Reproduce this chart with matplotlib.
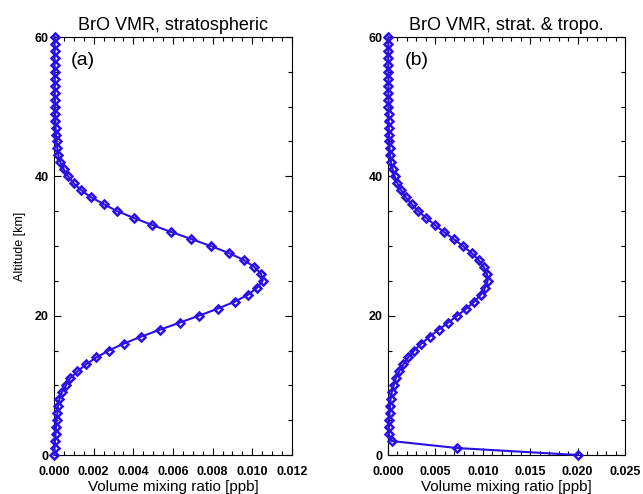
import matplotlib
matplotlib.use("Agg")
import matplotlib.pyplot as plt
from matplotlib.ticker import MultipleLocator, AutoMinorLocator, FormatStrFormatter

plt.rcParams['font.family'] = ['Liberation Sans', 'DejaVu Sans']

altitude = list(range(0, 61))
vmr_strat = [0.00002, 0.00003, 0.00005, 0.00008, 0.00010, 0.00013, 0.00017, 0.00020,
             0.00027, 0.00040, 0.00060, 0.00081, 0.00118, 0.00161, 0.00213, 0.00276,
             0.00353, 0.00440, 0.00536, 0.00634, 0.00731, 0.00825, 0.00911, 0.00978,
             0.01024, 0.01052, 0.01044, 0.01010, 0.00956, 0.00881, 0.00790, 0.00692,
             0.00592, 0.00496, 0.00405, 0.00319, 0.00251, 0.00187, 0.00138, 0.00099,
             0.00071, 0.00049, 0.00032, 0.00022, 0.00017, 0.00013, 0.00010, 0.00008,
             0.00007, 0.00006, 0.00005, 0.00005, 0.00004, 0.00004, 0.00004, 0.00003,
             0.00003, 0.00003, 0.00003, 0.00003, 0.00003]
vmr_tropo_add = [0.0200, 0.0073, 0.0004]
vmr_both = [t for t in vmr_tropo_add] + vmr_strat[len(vmr_tropo_add):]

titles = ["BrO VMR, stratospheric", "BrO VMR, strat. & tropo."]
panel_labels = ["(a)", "(b)"]
xlims = [0.012, 0.025]
xmajor = [0.002, 0.005]
xminor_n = [4, 5]
xfmt = ["%.3f", "%.3f"]

color = '#2a10e6'
W, H = 643, 494
fig = plt.figure(figsize=(W / 100, H / 100), dpi=100)

axes_px = [(54, 292), (388, 625)]
top_px, bot_px = 37, 455

series = [vmr_strat, vmr_both]
for i, (l, r) in enumerate(axes_px):
    ax = fig.add_axes([l / W, 1 - bot_px / H, (r - l) / W, (bot_px - top_px) / H])
    ax.plot(series[i], altitude, color=color, lw=1.5, marker='D', ms=4.5,
            mfc='none', mec=color, mew=1.8, clip_on=False, zorder=3)
    ax.set_xlim(0, xlims[i])
    ax.set_ylim(0, 60)
    ax.xaxis.set_major_locator(MultipleLocator(xmajor[i]))
    ax.xaxis.set_minor_locator(AutoMinorLocator(xminor_n[i]))
    ax.xaxis.set_major_formatter(FormatStrFormatter(xfmt[i]))
    ax.yaxis.set_major_locator(MultipleLocator(20))
    ax.yaxis.set_minor_locator(MultipleLocator(5))
    ax.tick_params(which='both', direction='in', top=True, right=True,
                   labelsize=9, width=0.8)
    ax.tick_params(axis='x', pad=8)
    ax.tick_params(axis='y', pad=4)
    ax.tick_params(which='major', length=5)
    ax.tick_params(which='minor', length=3)
    for lab in ax.get_xticklabels() + ax.get_yticklabels():
        lab.set_fontweight('bold')
    for s in ax.spines.values():
        s.set_linewidth(0.8)
    ax.set_title(titles[i], fontsize=13, pad=5)
    ax.set_xlabel("Volume mixing ratio [ppb]", fontsize=11, labelpad=1)
    ax.text(0.07, 0.965, panel_labels[i], transform=ax.transAxes,
            fontsize=14, va='top', ha='left')
    if i == 0:
        ax.set_ylabel("Altitude [km]", fontsize=9, labelpad=6)

fig.savefig("out.png", dpi=100)
